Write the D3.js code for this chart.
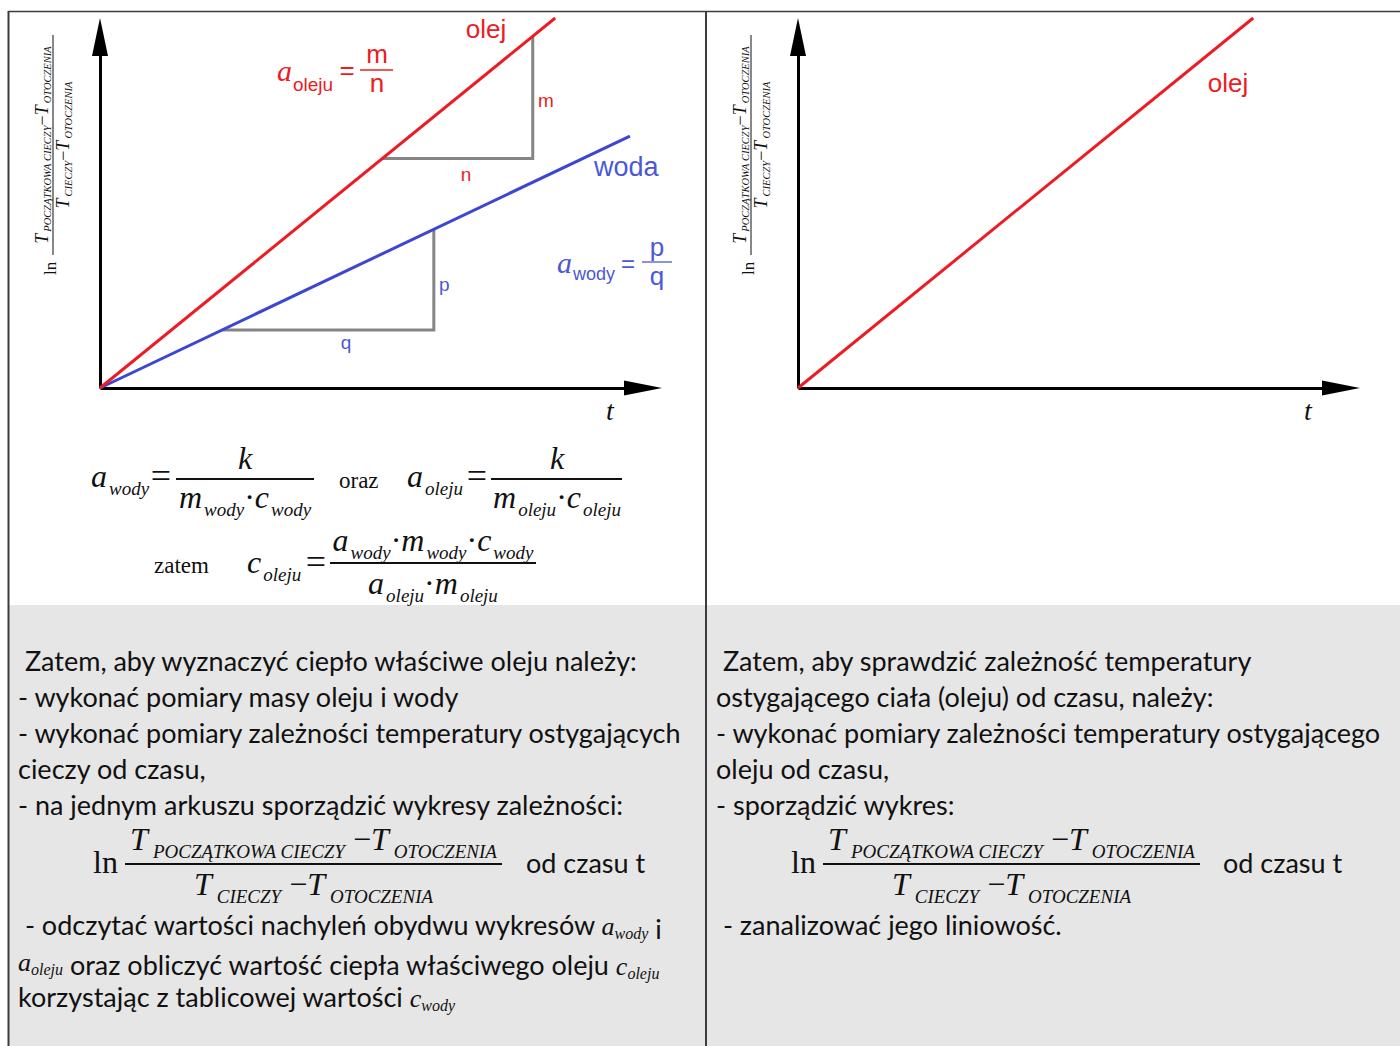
<!DOCTYPE html>
<html>
<head>
<meta charset="utf-8">
<script src="https://cdn.jsdelivr.net/npm/d3@7"></script>
<style>
  body { margin: 0; background: #fff; }
  svg text { white-space: pre; }
</style>
</head>
<body>
<svg></svg>
<script>
// ---- data ----
const tDomain = [0, 100];
const lnDomain = [0, 100];
const olejLine = [[0, 0], [81, 100]];
const wodaLine = [[0, 0], [94.3, 68.1]];
const olejTriangle = [[50.2, 62], [77, 62], [77, 95.1]];
const wodaTriangle = [[21.7, 15.7], [59.4, 15.7], [59.4, 42.9]];

const leftLines = [
  [" Zatem, aby wyznaczyć ciepło właściwe oleju należy:"],
  ["- wykonać pomiary masy oleju i wody"],
  ["- wykonać pomiary zależności temperatury ostygających"],
  ["cieczy od czasu,"],
  ["- na jednym arkuszu sporządzić wykresy zależności:"]
];
const leftLinesAfter = [
  [" - odczytać wartości nachyleń obydwu wykresów ", ["a", "wody"], " i"],
  [["a", "oleju"], " oraz obliczyć wartość ciepła właściwego oleju ", ["c", "oleju"]],
  ["korzystając z tablicowej wartości ", ["c", "wody"]]
];
const rightLines = [
  [" Zatem, aby sprawdzić zależność temperatury"],
  ["ostygającego ciała (oleju) od czasu, należy:"],
  ["- wykonać pomiary zależności temperatury ostygającego"],
  ["oleju od czasu,"],
  ["- sporządzić wykres:"]
];
const rightLinesAfter = [
  [" - zanalizować jego liniowość."]
];

const width = 1400;
const height = 1046;
const red = "#ec1c24";
const blue = "#3c46d2";
const blueText = "#4a58d8";
const serif = "'Liberation Serif', 'Times New Roman', serif";
const sans = "'Liberation Sans', Arial, sans-serif";
const body = "Lato, 'Open Sans', sans-serif";
const bodySize = 27;

const svg = d3.select("svg").attr("width", width).attr("height", height);

// ---- panels ----
svg.append("rect").attr("x", 8).attr("y", 11).attr("width", width - 8).attr("height", 594).attr("fill", "#fff");
svg.append("rect").attr("x", 8).attr("y", 605).attr("width", width - 8).attr("height", height - 605).attr("fill", "#e6e6e6");
svg.append("line").attr("x1", 8).attr("x2", width).attr("y1", 11.5).attr("y2", 11.5).attr("stroke", "#3c3c3c").attr("stroke-width", 1.5);
svg.append("line").attr("x1", 8.5).attr("x2", 8.5).attr("y1", 11).attr("y2", height).attr("stroke", "#3c3c3c").attr("stroke-width", 2);
svg.append("line").attr("x1", 706).attr("x2", 706).attr("y1", 11).attr("y2", height).attr("stroke", "#3c3c3c").attr("stroke-width", 2);

// ---- scales ----
const yScale = d3.scaleLinear().domain(lnDomain).range([388, 18]);
const xLeft = d3.scaleLinear().domain(tDomain).range([100, 662]);
const xRight = d3.scaleLinear().domain(tDomain).range([798, 1360]);

// math text helper: parts = [text, kind], kind i=italic, s=subscript, o=upright
const math = (g, x, y, parts, o) => {
  const t = g.append("text")
    .attr("x", x).attr("y", y)
    .attr("font-family", serif)
    .attr("text-anchor", o.anchor || "start")
    .attr("fill", o.color || "#111");
  let shift = 0;
  parts.forEach(([s, k]) => {
    const target = k === "s" ? o.drop : 0;
    const ts = t.append("tspan")
      .attr("dy", target - shift)
      .attr("font-size", k === "s" ? o.sub : o.size)
      .attr("font-style", k === "o" ? "normal" : (k === "s" && o.subUpright ? "normal" : "italic"))
      .text(s);
    if (k === "s") {
      ts.attr("dx", o.gap || 0);
      if (o.subFont) ts.attr("font-family", o.subFont);
    }
    shift = target;
  });
  return t;
};

const label = (x, y, text, color, size, anchor) =>
  svg.append("text").attr("x", x).attr("y", y).attr("font-family", sans)
    .attr("font-size", size).attr("fill", color).attr("text-anchor", anchor || "start").text(text);

const fracLine = (x1, x2, y, color, w) =>
  svg.append("line").attr("x1", x1).attr("x2", x2).attr("y1", y).attr("y2", y)
    .attr("stroke", color || "#111").attr("stroke-width", w || 2);

// ---- chart drawing ----
const drawChart = (xScale, series) => {
  const g = svg.append("g");
  const line = d3.line().x(d => xScale(d[0])).y(d => yScale(d[1]));

  series.filter(s => s.step).forEach(s => {
    g.append("path").attr("d", line(s.step)).attr("fill", "none")
      .attr("stroke", "#858585").attr("stroke-width", 3).attr("stroke-linejoin", "miter");
  });

  // axes (no ticks) with arrow heads
  const xAxisScale = xScale.copy().range([xScale.range()[0], xScale.range()[1] - 20]);
  const yAxisScale = yScale.copy().range([yScale.range()[0], yScale.range()[1] + 20]);
  const xAxis = d3.axisBottom(xAxisScale).tickValues([]).tickSizeOuter(0);
  const yAxis = d3.axisLeft(yAxisScale).tickValues([]).tickSizeOuter(0);
  g.append("g").attr("transform", "translate(0," + yScale(0) + ")").call(xAxis)
    .select(".domain").attr("stroke", "#000").attr("stroke-width", 3);
  g.append("g").attr("transform", "translate(" + xScale(0) + ",0)").call(yAxis)
    .select(".domain").attr("stroke", "#000").attr("stroke-width", 3);

  const xt = xScale.range()[1], y0 = yScale(0);
  g.append("polygon").attr("fill", "#000")
    .attr("points", [[xt, y0], [xt - 38, y0 - 7.5], [xt - 38, y0 + 7.5]].join(" "));
  const yt = yScale.range()[1], x0 = xScale(0);
  g.append("polygon").attr("fill", "#000")
    .attr("points", [[x0, yt], [x0 - 8, yt + 38], [x0 + 8, yt + 38]].join(" "));

  series.forEach(s => {
    g.append("path").attr("d", line(s.points)).attr("fill", "none")
      .attr("stroke", s.color).attr("stroke-width", 3);
  });
};

drawChart(xLeft, [
  { points: wodaLine, color: blue, step: wodaTriangle },
  { points: olejLine, color: red, step: olejTriangle }
]);
drawChart(xRight, [{ points: olejLine, color: red }]);

// rotated y label
const drawYLabel = (x, y) => {
  const g = svg.append("g").attr("transform", "translate(" + x + "," + y + ") rotate(-90)");
  g.append("text").attr("x", 0).attr("y", 3).attr("font-family", serif).attr("font-size", 17)
    .attr("fill", "#111").text("ln");
  g.append("line").attr("x1", 20).attr("x2", 240).attr("y1", 0).attr("y2", 0)
    .attr("stroke", "#111").attr("stroke-width", 1);
  const opt = { size: 18, sub: 10.5, drop: 3, gap: 2, anchor: "middle" };
  math(g, 130, -5, [["T", "i"], ["POCZĄTKOWA CIECZY", "s"], ["−", "o"], ["T", "i"], ["OTOCZENIA", "s"]], opt);
  math(g, 130, 16, [["T", "i"], ["CIECZY", "s"], ["−", "o"], ["T", "i"], ["OTOCZENIA", "s"]], opt);
};
drawYLabel(53, 275);
drawYLabel(751, 275);

// chart annotations
label(486, 38, "olej", red, 26, "middle");
label(538, 107, "m", red, 19);
label(466, 181, "n", red, 19, "middle");
label(594, 176, "woda", blueText, 27);
label(439, 291, "p", blueText, 19);
label(346, 349, "q", blueText, 19, "middle");
label(1228, 92, "olej", red, 26, "middle");

math(svg, 277, 81, [["a", "i"], ["oleju", "s"]], { size: 30, sub: 19, drop: 10, gap: 1, subFont: sans, subUpright: true, color: red });
label(347, 79, "=", red, 26, "middle");
fracLine(360, 393, 70, red, 1.3);
label(377, 63, "m", red, 26, "middle");
label(377, 92, "n", red, 26, "middle");

math(svg, 557, 273, [["a", "i"], ["wody", "s"]], { size: 30, sub: 18, drop: 7, gap: 1, subFont: sans, subUpright: true, color: blueText });
label(628, 272, "=", blueText, 24, "middle");
fracLine(642, 672, 262, blueText, 1.3);
label(657, 256, "p", blueText, 26, "middle");
label(657, 285, "q", blueText, 26, "middle");

math(svg, 610, 420, [["t", "i"]], { size: 28, anchor: "middle" });
math(svg, 1308, 420, [["t", "i"]], { size: 28, anchor: "middle" });

// ---- formulas under the left chart ----
const big = { size: 32, sub: 19, drop: 8, gap: 2 };
math(svg, 91, 487, [["a", "i"], ["wody", "s"]], big);
math(svg, 161, 488, [["=", "o"]], { size: 36, anchor: "middle" });
fracLine(176, 314, 479);
math(svg, 245, 469, [["k", "i"]], { size: 32, anchor: "middle" });
math(svg, 245, 508, [["m", "i"], ["wody", "s"], ["·", "o"], ["c", "i"], ["wody", "s"]], Object.assign({ anchor: "middle" }, big));
math(svg, 339, 488, [["oraz", "o"]], { size: 23 });
math(svg, 407, 487, [["a", "i"], ["oleju", "s"]], big);
math(svg, 477, 488, [["=", "o"]], { size: 36, anchor: "middle" });
fracLine(491, 622, 479);
math(svg, 557, 469, [["k", "i"]], { size: 32, anchor: "middle" });
math(svg, 557, 508, [["m", "i"], ["oleju", "s"], ["·", "o"], ["c", "i"], ["oleju", "s"]], Object.assign({ anchor: "middle" }, big));

math(svg, 154, 573, [["zatem", "o"]], { size: 23 });
math(svg, 247, 573, [["c", "i"], ["oleju", "s"]], big);
math(svg, 316, 574, [["=", "o"]], { size: 36, anchor: "middle" });
fracLine(330, 536, 563);
math(svg, 433, 551, [["a", "i"], ["wody", "s"], ["·", "o"], ["m", "i"], ["wody", "s"], ["·", "o"], ["c", "i"], ["wody", "s"]], Object.assign({ anchor: "middle" }, big));
math(svg, 433, 594, [["a", "i"], ["oleju", "s"], ["·", "o"], ["m", "i"], ["oleju", "s"]], Object.assign({ anchor: "middle" }, big));

// ---- text blocks ----
const writeLines = (x, y0, lines) => {
  lines.forEach((segs, i) => {
    const t = svg.append("text").attr("x", x).attr("y", y0 + i * 36)
      .attr("font-family", body).attr("font-size", bodySize).attr("fill", "#111");
    segs.forEach(s => {
      if (typeof s === "string") {
        t.append("tspan").text(s);
      } else {
        t.append("tspan").attr("font-family", serif).attr("font-style", "italic").attr("font-size", 26).text(s[0]);
        t.append("tspan").attr("font-family", serif).attr("font-style", "italic").attr("font-size", 16).attr("dy", 4).text(s[1]);
        t.append("tspan").attr("dy", -4).text("");
      }
    });
  });
};

const lnFormula = (x, lx1, lx2, odX) => {
  math(svg, x, 873, [["ln", "o"]], { size: 32 });
  fracLine(lx1, lx2, 864);
  const c = (lx1 + lx2) / 2;
  const opt = Object.assign({ anchor: "middle" }, big, { gap: 5 });
  math(svg, c, 850, [["T", "i"], ["POCZĄTKOWA CIECZY", "s"], [" −", "o"], ["T", "i"], ["OTOCZENIA", "s"]], opt);
  math(svg, c, 895, [["T", "i"], ["CIECZY", "s"], [" −", "o"], ["T", "i"], ["OTOCZENIA", "s"]], opt);
  svg.append("text").attr("x", odX).attr("y", 873).attr("font-family", body)
    .attr("font-size", bodySize).attr("fill", "#111").text("od czasu t");
};

writeLines(18, 671, leftLines);
lnFormula(93, 125, 502, 526);
writeLines(18, 935, leftLinesAfter);

writeLines(716, 671, rightLines);
lnFormula(791, 823, 1200, 1223);
writeLines(716, 935, rightLinesAfter);
</script>
</body>
</html>
